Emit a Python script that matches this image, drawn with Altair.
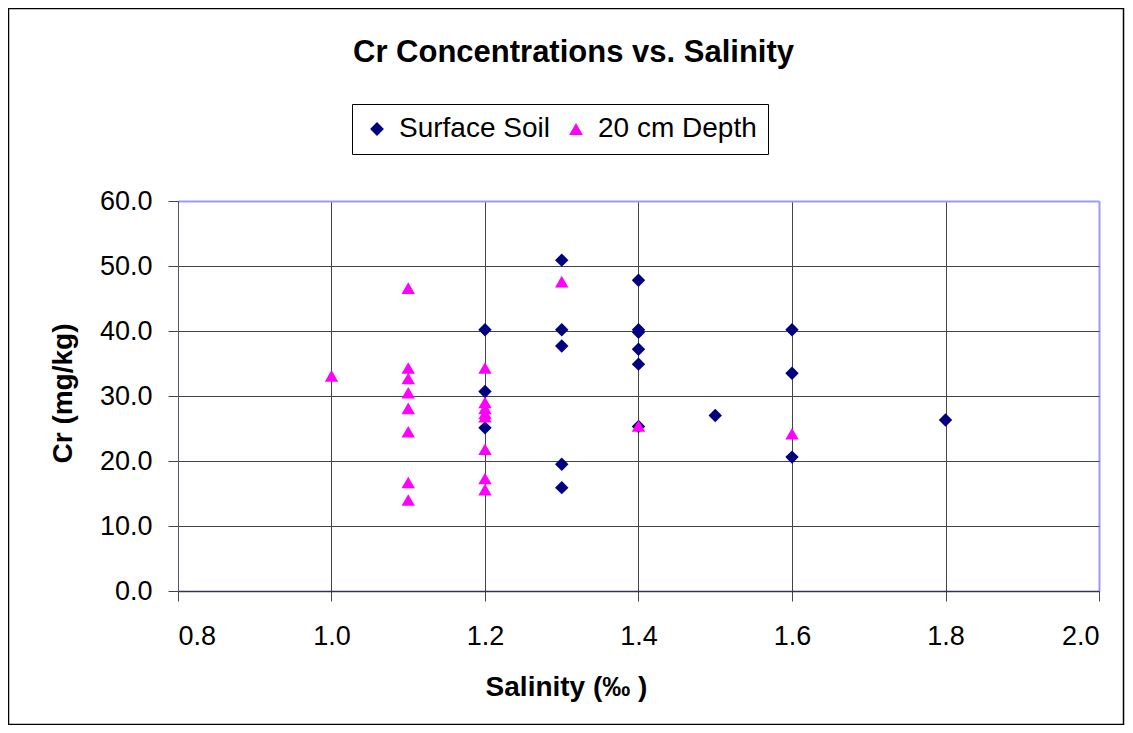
import altair as alt
import pandas as pd

# Surface soil (diamonds)
surface_salinity = [1.2, 1.2, 1.2, 1.3, 1.3, 1.3, 1.3, 1.3, 1.4, 1.4, 1.4, 1.4, 1.4, 1.4, 1.5, 1.6, 1.6, 1.6, 1.8]
surface_cr = [40.2, 30.7, 25.1, 50.9, 40.2, 37.7, 19.5, 15.9, 47.8, 40.2, 39.8, 37.2, 34.9, 25.3, 27.0, 40.2, 33.5, 20.6, 26.3]

# 20 cm depth (triangles)
depth_salinity = [1.0, 1.1, 1.1, 1.1, 1.1, 1.1, 1.1, 1.1, 1.1, 1.2, 1.2, 1.2, 1.2, 1.2, 1.2, 1.2, 1.2, 1.3, 1.4, 1.6]
depth_cr = [33.1, 46.6, 34.3, 32.7, 30.5, 28.1, 24.5, 16.7, 14.0, 34.3, 29.0, 28.1, 27.3, 26.8, 21.8, 17.3, 15.6, 47.6, 25.4, 24.2]

series_names = ["Surface Soil", "20 cm Depth"]
series_colors = ["#000080", "#FF00FF"]
series_shapes = ["diamond", "triangle-up"]

x_ticks = [0.8, 1.0, 1.2, 1.4, 1.6, 1.8, 2.0]
y_ticks = [0, 10, 20, 30, 40, 50, 60]

df = pd.DataFrame(
    {
        "Salinity": surface_salinity + depth_salinity,
        "Cr": surface_cr + depth_cr,
        "Series": [series_names[0]] * len(surface_salinity) + [series_names[1]] * len(depth_salinity),
    }
)

FONT = "Liberation Sans"
W, H = 921, 390

# chart-area frame (decoration)
border = (
    alt.Chart(alt.Data(values=[{"a": 1}]))
    .mark_rect(filled=False, stroke="#000000", strokeWidth=1.5)
    .encode(
        x=alt.value(-169.5),
        x2=alt.value(945.5),
        y=alt.value(-192.5),
        y2=alt.value(523.5),
    )
)

points = (
    alt.Chart(df)
    .mark_point(filled=True, size=180, opacity=1, strokeWidth=0)
    .encode(
        x=alt.X(
            "Salinity:Q",
            scale=alt.Scale(domain=[0.8, 2.0], nice=False, zero=False),
            axis=alt.Axis(
                title="Salinity (‰ )",
                values=x_ticks,
                format=".1f",
                labelFontSize=27,
                labelFont=FONT,
                labelColor="#000000",
                labelPadding=22,
                tickSize=10,
                tickColor="#444444",
                domainColor="#333355",
                domainWidth=1.5,
                grid=True,
                gridColor=alt.condition("datum.value >= 2.0", alt.value("#9999FF"), alt.value("#444444")),
                gridWidth=alt.condition("datum.value >= 2.0", alt.value(2), alt.value(1)),
                titleFont=FONT,
                titleFontSize=28,
                titleFontWeight="bold",
                titleColor="#000000",
                titleX=388,
                titleY=96,
                titleAlign="center",
                titleBaseline="middle",
            ),
        ),
        y=alt.Y(
            "Cr:Q",
            scale=alt.Scale(domain=[0, 60], nice=False),
            axis=alt.Axis(
                title="Cr (mg/kg)",
                values=y_ticks,
                format=".1f",
                labelFontSize=27,
                labelFont=FONT,
                labelColor="#000000",
                labelPadding=16,
                tickSize=10,
                tickColor="#444444",
                domainColor="#555577",
                domainWidth=1,
                grid=True,
                gridColor=alt.condition("datum.value >= 60", alt.value("#9999FF"), alt.value("#444444")),
                gridWidth=alt.condition("datum.value >= 60", alt.value(2), alt.value(1)),
                titleFont=FONT,
                titleFontSize=28,
                titleFontWeight="bold",
                titleColor="#000000",
                titleAngle=270,
                titleX=-115,
                titleY=192,
                titleAlign="center",
                titleBaseline="middle",
            ),
        ),
        color=alt.Color(
            "Series:N",
            scale=alt.Scale(domain=series_names, range=series_colors),
            legend=alt.Legend(
                title=None,
                orient="none",
                legendX=174,
                legendY=-97,
                direction="horizontal",
                labelFont=FONT,
                labelFontSize=28,
                labelColor="#000000",
                labelOffset=8,
                columnPadding=12,
                symbolSize=190,
                symbolStrokeWidth=0,
                padding=11,
                strokeColor="#000000",
                fillColor="#FFFFFF",
            ),
        ),
        shape=alt.Shape(
            "Series:N",
            scale=alt.Scale(domain=series_names, range=series_shapes),
        ),
        order=alt.Order("order:Q"),
    )
    .transform_calculate(order="datum.Series == 'Surface Soil' ? 0 : 1")
)

chart = (
    alt.layer(border, points)
    .properties(
        width=W,
        height=H,
        autosize=alt.AutoSizeParams(type="none"),
        padding={"left": 170, "top": 193, "right": 26, "bottom": 134},
        title=alt.TitleParams(
            "Cr Concentrations vs. Salinity",
            font=FONT,
            fontSize=31,
            fontWeight="bold",
            color="#000000",
            anchor="middle",
            frame="group",
            dx=-65,
            baseline="alphabetic",
            offset=-85,
        ),
    )
    .configure_view(stroke="#9999FF", strokeWidth=2)
    .configure(background="#FFFFFF")
)

chart.save("out.html", embed_options={"renderer": "svg", "actions": False})
